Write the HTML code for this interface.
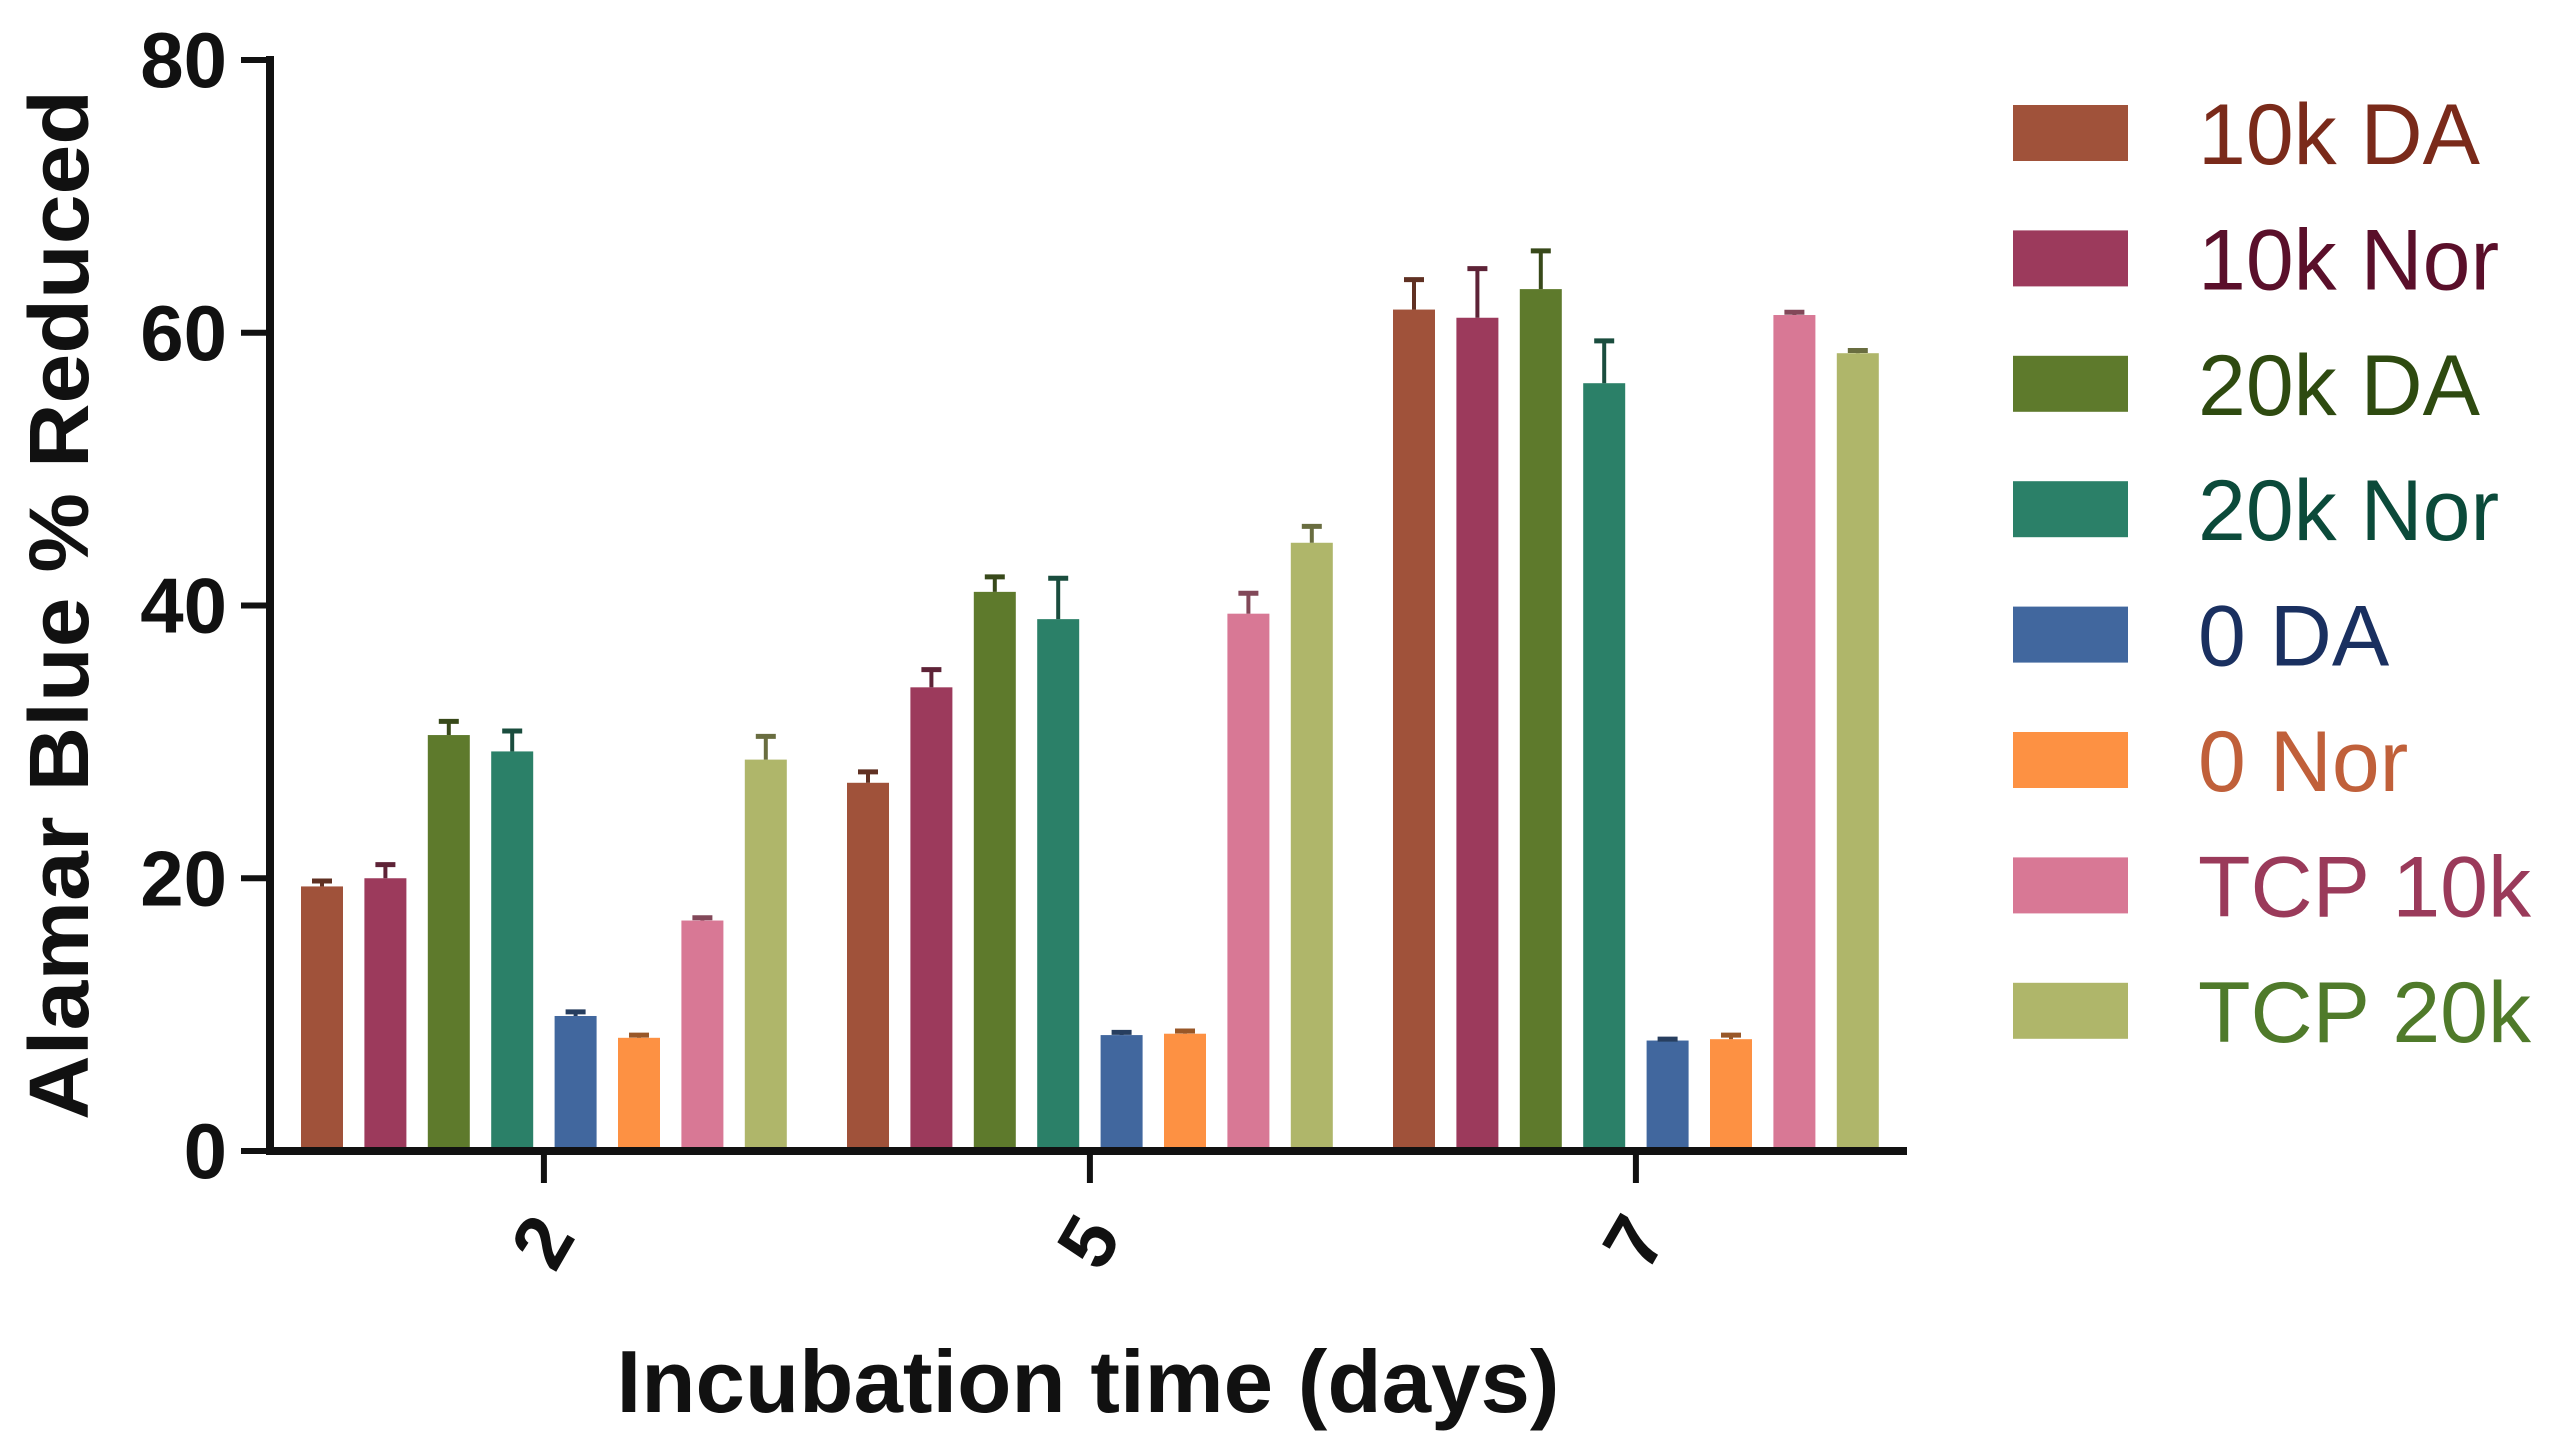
<!DOCTYPE html>
<html><head><meta charset="utf-8"><style>
html,body{margin:0;padding:0;background:#fff;}
svg{display:block;font-family:"Liberation Sans",Arial,sans-serif;}
</style></head><body>
<svg id="chart" width="2550" height="1451" viewBox="0 0 2550 1451" xmlns="http://www.w3.org/2000/svg">
<g id="bars"></g>
<g id="axes"></g>
<g id="legend"></g>
<text x="0" y="0" transform="translate(88,605) rotate(-90)" text-anchor="middle" font-size="84" font-weight="bold" fill="#111" textLength="1030" lengthAdjust="spacingAndGlyphs">Alamar Blue % Reduced</text>
<text x="1088" y="1412" text-anchor="middle" font-size="88" font-weight="bold" fill="#111" textLength="943" lengthAdjust="spacingAndGlyphs">Incubation time (days)</text>
</svg>
<script>
const categories = ["2", "5", "7"];
const seriesNames = ["10k DA", "10k Nor", "20k DA", "20k Nor", "0 DA", "0 Nor", "TCP 10k", "TCP 20k"];
const values10kDA = [19.4, 27.0, 61.7];
const values10kNor = [20.0, 34.0, 61.1];
const values20kDA = [30.5, 41.0, 63.2];
const values20kNor = [29.3, 39.0, 56.3];
const values0DA = [9.9, 8.5, 8.1];
const values0Nor = [8.3, 8.6, 8.2];
const valuesTCP10k = [16.9, 39.4, 61.3];
const valuesTCP20k = [28.7, 44.6, 58.5];
const err10kDA = [0.4, 0.8, 2.2];
const err10kNor = [1.0, 1.3, 3.6];
const err20kDA = [1.0, 1.1, 2.8];
const err20kNor = [1.5, 3.0, 3.1];
const err0DA = [0.3, 0.2, 0.1];
const err0Nor = [0.2, 0.2, 0.3];
const errTCP10k = [0.2, 1.5, 0.2];
const errTCP20k = [1.7, 1.2, 0.2];
const yTicks = [0, 20, 40, 60, 80];

const seriesValues = [values10kDA, values10kNor, values20kDA, values20kNor, values0DA, values0Nor, valuesTCP10k, valuesTCP20k];
const seriesErrors = [err10kDA, err10kNor, err20kDA, err20kNor, err0DA, err0Nor, errTCP10k, errTCP20k];
const colors = ["#A0523A", "#9C3A5C", "#5E7A2C", "#2B8068", "#41679E", "#FD9143", "#D87895", "#AFB66A"];
const textColors = ["#7a2a1a", "#5a0f2a", "#2e4a10", "#0b4a3a", "#1a3060", "#c0603a", "#9a3a5a", "#4f7a2a"];

const NS = "http://www.w3.org/2000/svg";
const y0px = 1151, y80px = 60, axisX = 270, axisEnd = 1907;
function yScale(v){ return y0px - (v/80)*(y0px - y80px); }
const groupStart0 = 301, groupPitch = 546, barPitch = 63.4, barW = 42;
function xBar(g, s){ return groupStart0 + g*groupPitch + s*barPitch; }
function xGroupCenter(g){ return xBar(g,0) + (7*barPitch + barW)/2; }
function mk(tag, attrs, parent){ const e=document.createElementNS(NS,tag); for(const k in attrs) e.setAttribute(k,attrs[k]); parent.appendChild(e); return e; }

const barsG = document.getElementById("bars");
seriesValues.forEach((vals, s) => {
  vals.forEach((v, g) => {
    const x = xBar(g, s), yt = yScale(v);
    const r = mk("rect", {x:x, y:yt, width:barW, height:y0px-yt, fill:colors[s]}, barsG);
    
    
    const ye = yScale(v + seriesErrors[s][g]);
    const eg = mk("g", {}, barsG);
    
    
    mk("line", {x1:x+barW/2, x2:x+barW/2, y1:yt, y2:ye, stroke:colors[s], "stroke-width":4, style:"filter:brightness(0.6)"}, eg);
    mk("line", {x1:x+barW/2-10, x2:x+barW/2+10, y1:ye, y2:ye, stroke:colors[s], "stroke-width":5, style:"filter:brightness(0.6)"}, eg);
  });
});

const ax = document.getElementById("axes");
const yl = mk("line", {x1:axisX, x2:axisX, y1:y80px-4, y2:y0px+4, stroke:"#111", "stroke-width":8}, ax);


const xl = mk("line", {x1:axisX-4, x2:axisEnd, y1:y0px, y2:y0px, stroke:"#111", "stroke-width":8}, ax);


yTicks.forEach(t => {
  const y = yScale(t);
  const tk = mk("line", {x1:241, x2:axisX, y1:y, y2:y, stroke:"#111", "stroke-width":6}, ax);
  
  
  const tx = mk("text", {x:227, y:y+27, "text-anchor":"end", "font-size":78, "font-weight":"bold", fill:"#111"}, ax);
  tx.textContent = t;
  
  
});
categories.forEach((c, g) => {
  const x = xGroupCenter(g);
  const tk = mk("line", {x1:x, x2:x, y1:y0px, y2:y0px+32, stroke:"#111", "stroke-width":6}, ax);
  
  
  const tx = mk("text", {x:0, y:0, transform:"translate("+(x+4)+",1245) rotate(-60)", "text-anchor":"middle", "font-size":78, "font-weight":"bold", fill:"#111", "dominant-baseline":"middle"}, ax);
  tx.textContent = c;
  
  
});

const lg = document.getElementById("legend");
seriesNames.forEach((n, i) => {
  const y = 133 + i*125.4;
  const gg = mk("g", {}, lg);
  
  
  mk("rect", {x:2013, y:y-28, width:115, height:56, fill:colors[i]}, gg);
  const t = mk("text", {x:2198, y:y+31, "font-size":86, fill:textColors[i]}, gg);
  t.textContent = n;
});
</script>
</body></html>
